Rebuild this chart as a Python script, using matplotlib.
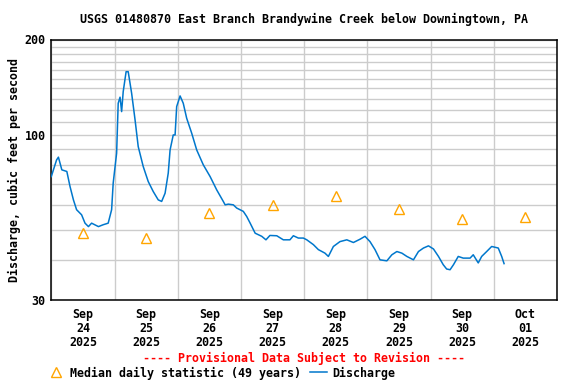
import matplotlib
matplotlib.use("Agg")
import matplotlib.pyplot as plt
from matplotlib.ticker import FixedLocator, NullFormatter

# Dados (horas desde 24/set 00:00, vazao em pes cubicos/s)
horas = [0.0, 2.0, 2.7, 4.0, 5.9, 7.1, 8.4, 9.6, 11.5, 12.8, 14.1, 15.3, 17.9,
         19.7, 21.6, 22.9, 23.5, 24.8, 25.4, 26.1, 26.7, 27.3, 28.4, 29.2, 30.5,
         31.8, 33.0, 34.9, 36.8, 38.7, 40.6, 41.9, 43.2, 44.4, 45.1, 46.3, 47.0,
         47.6, 48.9, 50.1, 51.4, 53.3, 55.2, 57.7, 60.3, 62.8, 65.3, 66.0, 67.2,
         69.1, 70.4, 72.9, 74.2, 75.5, 77.4, 79.9, 81.5, 83.0, 85.6, 88.1, 90.6,
         91.9, 93.8, 95.7, 97.0, 99.5, 101.4, 103.9, 105.2, 107.1, 109.6, 112.2,
         114.7, 117.2, 119.1, 121.0, 122.9, 124.8, 127.4, 129.3, 131.2, 133.1,
         135.0, 137.5, 139.4, 141.3, 143.2, 145.1, 147.0, 148.8, 150.1, 151.4,
         152.7, 154.5, 156.4, 159.0, 160.2, 162.1, 163.4, 165.3, 167.2, 169.7,
         171.0, 171.9]
vazao = [73.7, 83.2, 84.9, 77.4, 76.5, 68.6, 62.2, 57.9, 55.8, 52.5, 51.2, 52.5,
         51.2, 51.9, 52.5, 57.9, 70.3, 87.4, 125.7, 131.4, 118.3, 136.8, 158.2,
         158.2, 135.2, 111.4, 91.7, 79.3, 71.1, 66.1, 62.2, 61.5, 65.3, 75.6,
         89.5, 99.8, 99.8, 122.7, 132.6, 125.7, 112.7, 101.1, 89.5, 80.3, 73.7,
         66.9, 61.5, 60.0, 60.3, 60.0, 58.6, 57.2, 55.1, 52.5, 48.8, 47.7, 46.5,
         48.0, 47.9, 46.5, 46.5, 47.9, 47.1, 47.1, 46.5, 44.9, 43.3, 42.2, 41.2,
         44.3, 45.9, 46.5, 45.6, 46.7, 47.7, 45.9, 43.3, 40.2, 39.9, 41.7, 42.7,
         42.2, 41.2, 40.2, 42.7, 43.8, 44.5, 43.5, 41.2, 38.8, 37.6, 37.4, 38.8,
         41.2, 40.7, 40.7, 41.7, 39.3, 41.2, 42.7, 44.3, 43.8, 41.2, 39.1]

# Mediana diaria (meio-dia de cada dia)
horas_mediana = [12, 36, 60, 84, 108, 132, 156, 180]
mediana = [48.8, 47.1, 56.7, 60.0, 63.8, 58.2, 54.1, 54.9]

dias_rotulos = ["Sep\n24\n2025", "Sep\n25\n2025", "Sep\n26\n2025", "Sep\n27\n2025",
                "Sep\n28\n2025", "Sep\n29\n2025", "Sep\n30\n2025", "Oct\n01\n2025"]

fonte = {"family": "DejaVu Sans Mono", "weight": "bold", "size": 8.4}

fig = plt.figure(figsize=(5.76, 3.84), dpi=100)
ax = fig.add_axes([51.3 / 576, 1 - 300 / 384, (557 - 51.3) / 576, (300 - 39.5) / 384])

ax.plot(horas, vazao, color="#0077cc", lw=1.1, label="Discharge", zorder=3)
ax.plot(horas_mediana, mediana, ls="none", marker="^", markersize=7.5,
        markerfacecolor="none", markeredgecolor="#ffa500", mew=1.0,
        label="Median daily statistic (49 years)", zorder=4)

ax.set_yscale("log")
ax.set_ylim(30, 200)
ax.set_xlim(0, 192)

# Eixo y
ax.yaxis.set_major_locator(FixedLocator([30, 100, 200]))
ax.yaxis.set_minor_locator(FixedLocator(list(range(40, 200, 10))))
ax.yaxis.set_minor_formatter(NullFormatter())
ax.set_yticklabels(["30", "100", "200"], fontdict=fonte)

# Eixo x: grade na meia-noite, rotulos ao meio-dia
ax.xaxis.set_major_locator(FixedLocator(list(range(0, 193, 24))))
ax.xaxis.set_major_formatter(NullFormatter())
ax.xaxis.set_minor_locator(FixedLocator(horas_mediana))
ax.set_xticklabels(dias_rotulos, minor=True, fontdict=fonte, linespacing=1.07)

ax.tick_params(which="both", length=0)
ax.tick_params(axis="y", pad=4)
ax.tick_params(axis="x", which="minor", pad=6)

ax.grid(True, which="major", color="#cccccc", lw=1.0)
ax.grid(True, which="minor", axis="y", color="#cccccc", lw=1.0)
ax.set_axisbelow(True)
for s in ax.spines.values():
    s.set_linewidth(1.1)
    s.set_color("black")

ax.set_ylabel("Discharge, cubic feet per second", fontdict=fonte, labelpad=3)

fig.text(304 / 576, 1 - 19 / 384, "USGS 01480870 East Branch Brandywine Creek below Downingtown, PA",
         ha="center", va="center", **fonte)
fig.text(304 / 576, 1 - 358 / 384, "---- Provisional Data Subject to Revision ----",
         ha="center", va="center", color="red", **fonte)

h, l = ax.get_legend_handles_labels()
fig.legend(h[::-1], l[::-1], loc="center left", bbox_to_anchor=(48 / 576, 1 - 373 / 384),
           ncol=2, frameon=False, borderpad=0, borderaxespad=0, handlelength=1.45,
           handletextpad=0.45, columnspacing=0.75,
           prop={"family": "DejaVu Sans Mono", "weight": "bold", "size": 8.4})

fig.savefig("out.png", dpi=100)
